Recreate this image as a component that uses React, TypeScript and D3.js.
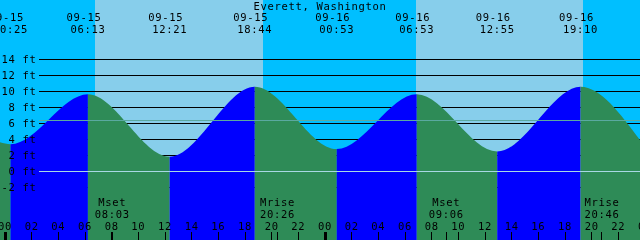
import React from "react";
import * as d3 from "d3";

const title = "Everett, Washington";

// Tide extremes (date, time, height in ft)
const tideDates = ["09-15", "09-15", "09-15", "09-15", "09-16", "09-16", "09-16", "09-16"];
const tideTimes = ["00:25", "06:13", "12:21", "18:44", "00:53", "06:53", "12:55", "19:10"];
const tideHeights = [3.4, 9.65, 1.85, 10.6, 2.8, 9.65, 2.5, 10.6];

// Curve readings at the chart edges
const edgeDates = ["09-14", "09-16"];
const edgeTimes = ["23:37", "23:37"];
const edgeHeights = [3.65, 3.95];

// Sun (day/night bands)
const sunDates = ["09-15", "09-15", "09-16", "09-16"];
const sunTimes = ["06:45", "19:22", "06:48", "19:22"];
const sunKinds = ["rise", "set", "rise", "set"];

// Moon events
const moonDates = ["09-15", "09-15", "09-16", "09-16"];
const moonTimes = ["08:03", "20:26", "09:06", "20:46"];
const moonLabels = ["Mset", "Mrise", "Mset", "Mrise"];

const depthTicks = [14, 12, 10, 8, 6, 4, 2, 0, -2];
const hourTicks = d3.range(0, 49, 2);
const meanSeaLevel = 6.4;

const W = 640;
const H = 240;

const toHours = (date: string, time: string) => {
  const day = date === "09-14" ? -1 : date === "09-15" ? 0 : 1;
  const [hh, mm] = time.split(":").map(Number);
  return day * 24 + hh + mm / 60;
};

const font = "'DejaVu Sans Mono', monospace";
const fs = 10.5;
const ls = 0.68;

export default function App() {
  const x = d3.scaleLinear().domain([-0.375, 47.625]).range([0, W]);
  const y = d3.scaleLinear().domain([0, 14]).range([171.5, 59.5]);
  const crisp = (v: number) => Math.round(v - 0.5) + 0.5;

  const pts: [number, number][] = [
    [toHours(edgeDates[0], edgeTimes[0]), edgeHeights[0]],
    ...tideTimes.map((t, i) => [toHours(tideDates[i], t), tideHeights[i]] as [number, number]),
    [toHours(edgeDates[1], edgeTimes[1]) + 0.5 / 60, edgeHeights[1]],
  ];

  const area = d3
    .area<[number, number]>()
    .x((d) => x(d[0]))
    .y0(H)
    .y1((d) => y(d[1]))
    .curve(d3.curveMonotoneX);
  const areaPath = area(pts) || "";

  // day/night bands
  const sunH = sunTimes.map((t, i) => toHours(sunDates[i], t));
  const bandEdges = [x.domain()[0], ...sunH, x.domain()[1]];
  const bands = d3.range(bandEdges.length - 1).map((i) => ({
    x0: x(bandEdges[i]),
    x1: x(bandEdges[i + 1]),
    day: i > 0 && sunKinds[i - 1] === "rise",
  }));

  const segs = d3.range(pts.length - 1).map((i) => ({
    x0: x(pts[i][0]),
    x1: x(pts[i + 1][0]),
    rising: pts[i + 1][1] > pts[i][1],
  }));

  const textStyle = { fontFamily: font, fontSize: fs, letterSpacing: ls, fill: "#000" } as const;

  return (
    <svg
      width={W}
      height={H}
      style={{ position: "fixed", left: 0, top: 0, display: "block" }}
    >
      <defs>
        {segs.map((s, i) => (
          <clipPath id={`seg${i}`} key={i}>
            <rect x={s.x0} y={0} width={s.x1 - s.x0} height={H} />
          </clipPath>
        ))}
      </defs>
      {bands.map((b, i) => (
        <rect
          key={i}
          x={b.x0}
          y={0}
          width={b.x1 - b.x0}
          height={H}
          fill={b.day ? "#87ceeb" : "#00bfff"}
          shapeRendering="crispEdges"
        />
      ))}
      {depthTicks.map((d) => (
        <line key={d} x1={39} x2={W} y1={crisp(y(d))} y2={crisp(y(d))} stroke="#000" strokeWidth={1} />
      ))}
      {segs.map((s, i) => (
        <path key={i} d={areaPath} fill={s.rising ? "#0000ff" : "#2e8b57"} clipPath={`url(#seg${i})`} />
      ))}
      <line x1={39} x2={W} y1={crisp(y(meanSeaLevel))} y2={crisp(y(meanSeaLevel))} stroke="#5aa9a0" strokeWidth={1} />
      <line x1={39} x2={W} y1={crisp(y(0))} y2={crisp(y(0))} stroke="#a8d8e4" strokeWidth={1} />

      {depthTicks.map((d) => (
        <text key={d} x={36.5} y={crisp(y(d)) + 3.3} textAnchor="end" style={textStyle}>
          {`${d} ft`}
        </text>
      ))}

      <text x={W / 2} y={10} textAnchor="middle" style={textStyle}>
        {title}
      </text>
      {tideTimes.map((t, i) => {
        const cx = x(toHours(tideDates[i], t));
        return (
          <g key={i}>
            <text x={cx - 4} y={21} textAnchor="middle" style={textStyle}>
              {tideDates[i]}
            </text>
            <text x={cx} y={33} textAnchor="middle" style={textStyle}>
              {t}
            </text>
          </g>
        );
      })}

      {moonTimes.map((t, i) => {
        const cx = x(toHours(moonDates[i], t));
        return (
          <g key={i}>
            <text x={cx} y={206} textAnchor="middle" style={textStyle}>
              {moonLabels[i]}
            </text>
            <text x={cx} y={217.5} textAnchor="middle" style={textStyle}>
              {t}
            </text>
            <line x1={crisp(cx)} x2={crisp(cx)} y1={232} y2={H} stroke="#000" strokeWidth={1} />
          </g>
        );
      })}

      {hourTicks.map((h) => {
        const cx = x(h);
        const hh = h % 24;
        return (
          <g key={h}>
            <text x={cx} y={229.5} textAnchor="middle" style={textStyle}>
              {d3.format("02d")(hh)}
            </text>
            <line
              x1={crisp(cx)}
              x2={crisp(cx)}
              y1={232}
              y2={H}
              stroke="#000"
              strokeWidth={hh === 0 ? 3 : 1}
            />
          </g>
        );
      })}
    </svg>
  );
}
